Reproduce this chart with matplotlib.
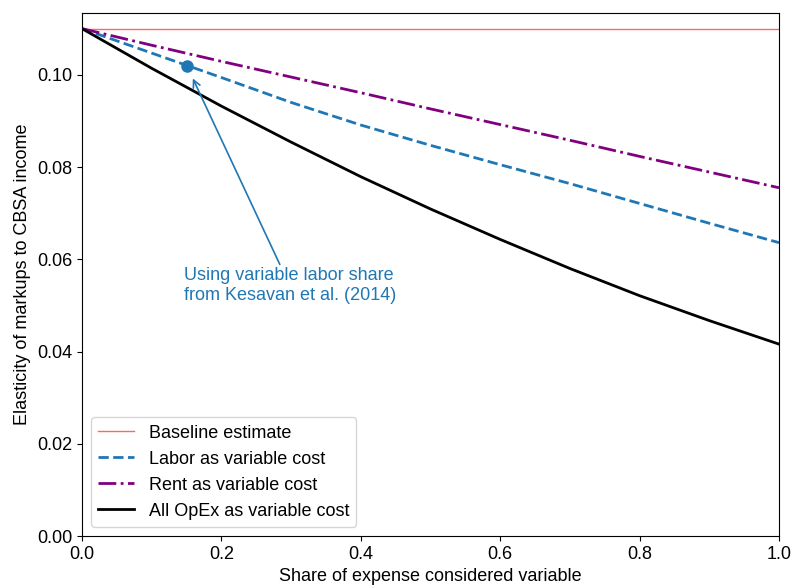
import numpy as np
import matplotlib
matplotlib.use('Agg')
import matplotlib.pyplot as plt

plt.rcParams['font.family'] = ['Liberation Sans', 'DejaVu Sans']

# share of expense considered variable
share = [0.0, 0.1, 0.2, 0.3, 0.4, 0.5, 0.6, 0.7, 0.8, 0.9, 1.0]
baseline = 0.110
labor = [0.110, 0.1047, 0.0994, 0.0940, 0.0891, 0.0847, 0.0805, 0.0764, 0.0721, 0.0678, 0.0636]
rent = [0.110, 0.1064, 0.1029, 0.0995, 0.0961, 0.0926, 0.0892, 0.0858, 0.0823, 0.0789, 0.0755]
opex = [0.110, 0.1014, 0.0932, 0.0854, 0.0779, 0.0709, 0.0643, 0.0580, 0.0521, 0.0467, 0.0416]

# Kesavan et al. variable labor share point
kes_x = 0.15
kes_y = 0.102

fig, ax = plt.subplots(figsize=(7.92, 5.88), dpi=100)
fig.subplots_adjust(left=0.1035, right=0.9836, top=0.978, bottom=0.0884)

ax.axhline(baseline, color='#ff6666', lw=1, label='Baseline estimate')
ax.plot(share, labor, color='#1f77b4', ls='--', lw=2, label='Labor as variable cost')
ax.plot(share, rent, color='purple', ls='-.', lw=2, label='Rent as variable cost')
ax.plot(share, opex, color='black', lw=2, label='All OpEx as variable cost')
ax.plot([kes_x], [kes_y], 'o', color='#1f77b4', ms=8)

ax.annotate('Using variable labor share\nfrom Kesavan et al. (2014)',
            xy=(0.159, 0.0992), xytext=(0.298, 0.0543),
            ha='center', va='center', color='#1f77b4', fontsize=13,
            multialignment='left',
            arrowprops=dict(arrowstyle='->', color='#1f77b4', lw=1.2,
                            shrinkA=0, shrinkB=0))

ax.set_xlim(0, 1)
ax.set_ylim(0, 0.1134)
ax.set_xticks([0.0, 0.2, 0.4, 0.6, 0.8, 1.0])
ax.set_yticks([0.00, 0.02, 0.04, 0.06, 0.08, 0.10])
ax.set_yticklabels(['0.00', '0.02', '0.04', '0.06', '0.08', '0.10'])
ax.tick_params(labelsize=13)
ax.set_xlabel('Share of expense considered variable', fontsize=13)
ax.set_ylabel('Elasticity of markups to CBSA income', fontsize=13)
ax.legend(loc='lower left', fontsize=13)

fig.savefig('out.png', dpi=100)
